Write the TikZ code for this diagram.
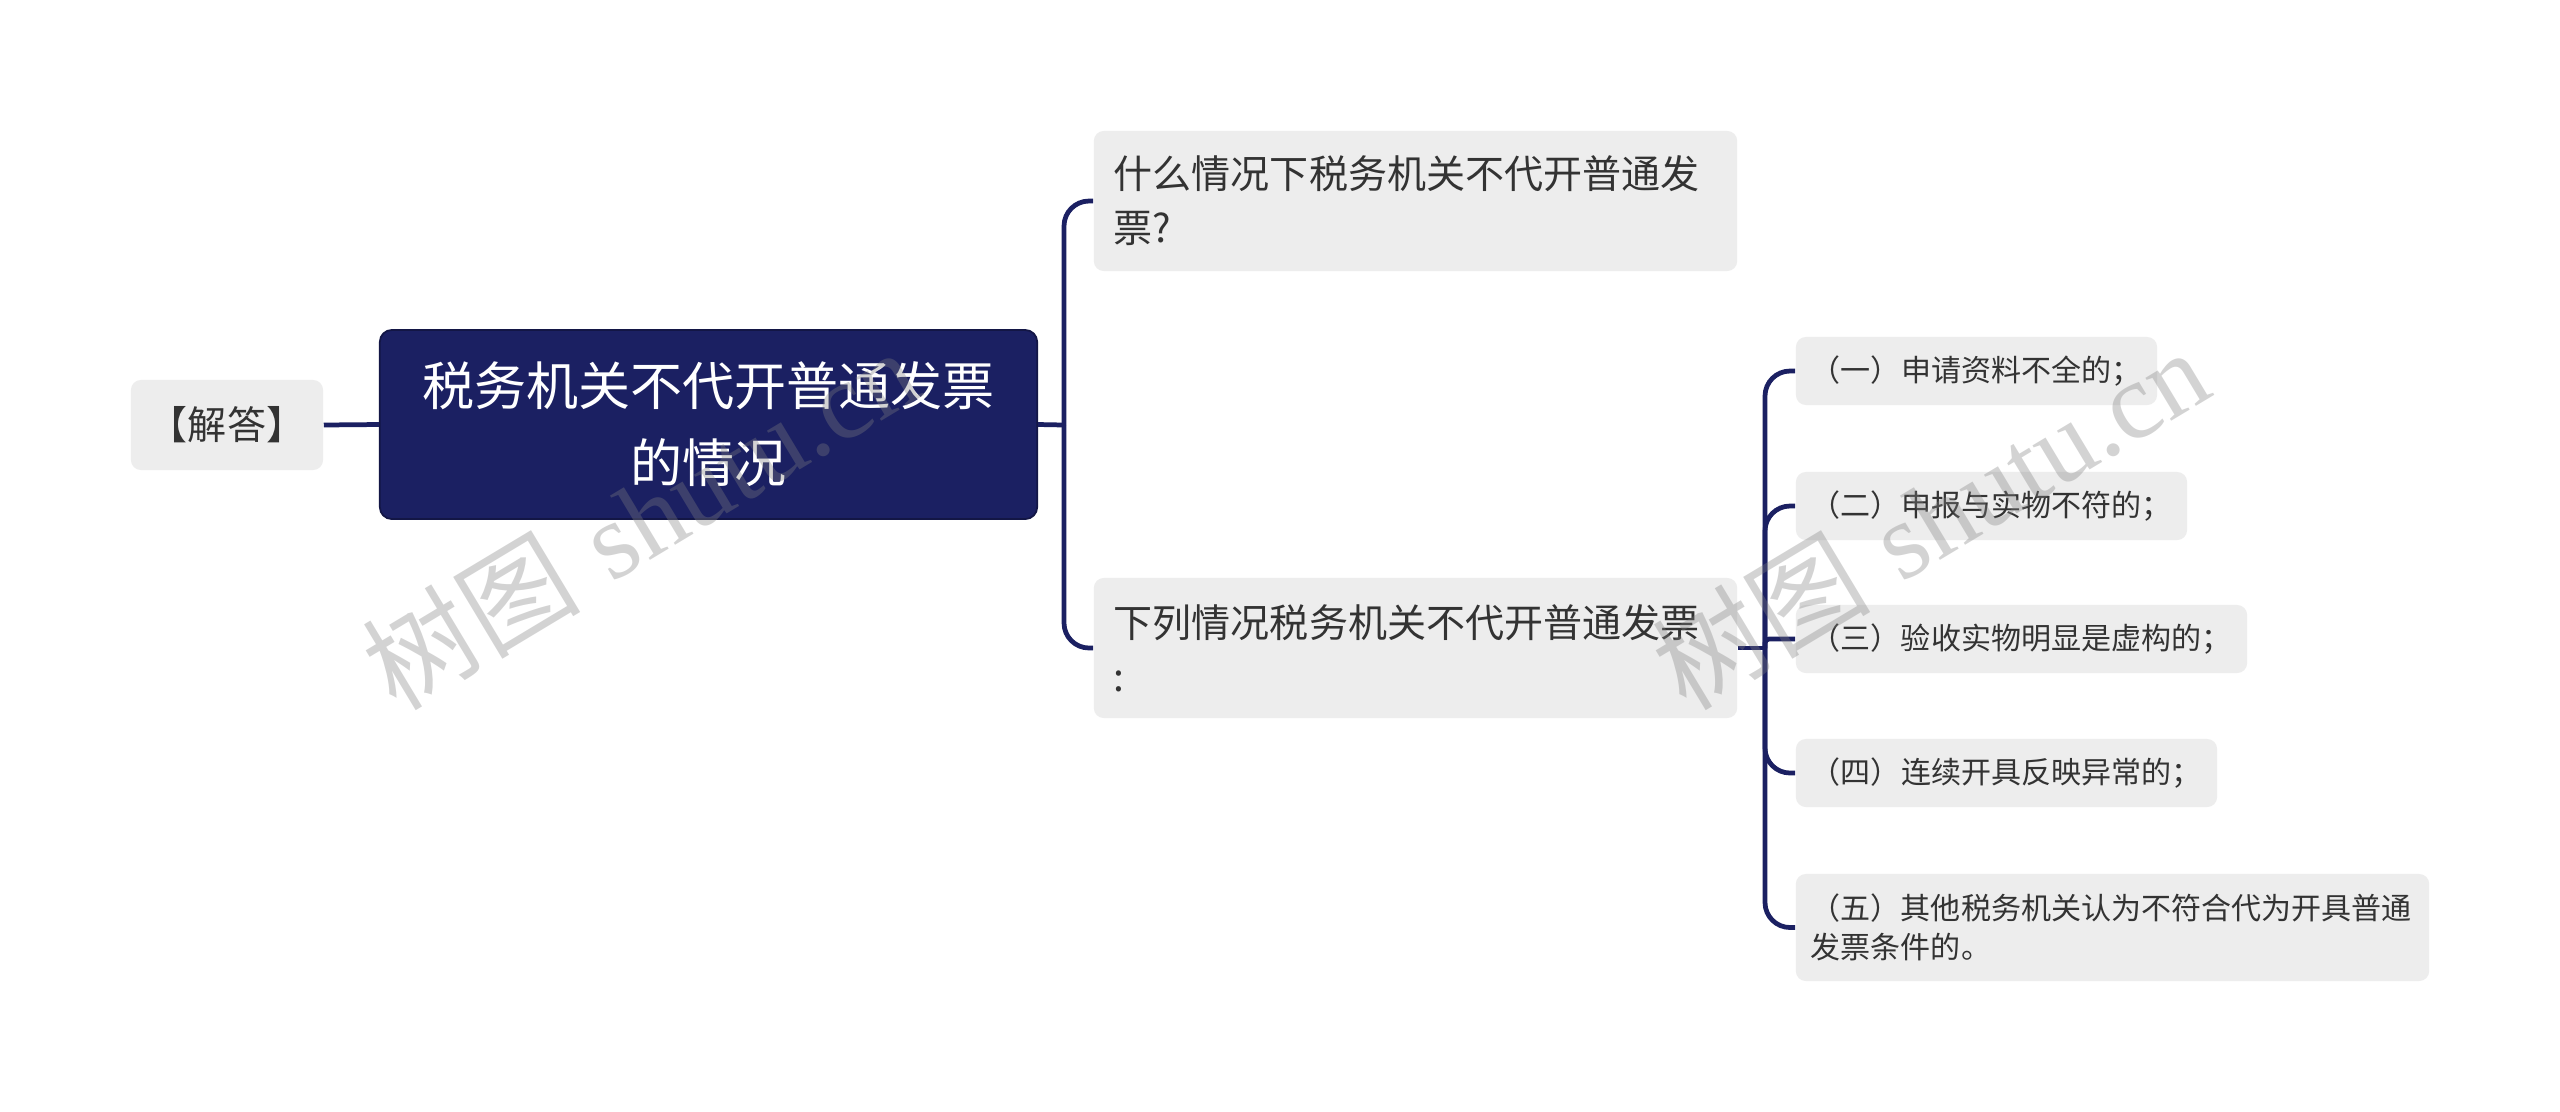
\documentclass[tikz,border=0pt]{standalone}
\usepackage{fontspec}
\newfontfamily\cjk{Noto Sans CJK SC}
\newfontfamily\wmserif{Liberation Serif}
\definecolor{navy}{RGB}{27,32,98}
\definecolor{boxgray}{RGB}{237,237,237}
\definecolor{txt}{RGB}{51,51,51}
\begin{document}
\begin{tikzpicture}[x=0.01cm,y=-0.01cm,
  conn/.style={draw=navy, line width=1.35pt},
  rootbox/.style={fill=navy, draw=navy!70!black, line width=0.5pt, rounded corners=0.12cm,
    text=white, font=\cjk\fontsize{14.8pt}{21.9pt}\selectfont, align=center,
    text width=6.57cm, inner xsep=0pt, inner ysep=0pt, minimum height=1.89cm},
  subbox/.style={fill=boxgray, rounded corners=0.1cm, text=txt,
    font=\cjk\fontsize{11.1pt}{15.4pt}\selectfont, align=left, inner xsep=0.2cm, inner ysep=0pt},
  leafbox/.style={fill=boxgray, rounded corners=0.1cm, text=txt,
    font=\cjk\fontsize{8.54pt}{11.1pt}\selectfont, align=left, inner xsep=0.15cm, inner ysep=0pt,
    minimum height=0.68cm},
  wmark/.style={rotate=31, text=black!50, opacity=0.34, font=\fontsize{31pt}{31pt}\selectfont}
]
\useasboundingbox (0,0) rectangle (2560,1111);
\fill[white] (0,0) rectangle (2560,1111);

% nodes
\node[subbox, align=center, inner xsep=0.18cm, text width=1.56cm, minimum height=0.90cm] (ans) at (227,425) {【解答】};
\node[rootbox] (root) at (708.5,424.5) {税务机关不代开普通发票\\的情况};
\node[subbox, text width=6.03cm, minimum height=1.40cm] (c1) at (1415.5,201) {什么情况下税务机关不代开普通发\\票?};
\node[subbox, text width=6.03cm, minimum height=1.40cm] (c2) at (1415.5,648) {下列情况税务机关不代开普通发票\\:};

\node[leafbox, text width=3.31cm] (g1) at (1976.5,371) {（一）申请资料不全的；};
\node[leafbox, text width=3.61cm] (g2) at (1991.5,506) {（二）申报与实物不符的；};
\node[leafbox, text width=4.21cm] (g3) at (2021.5,639) {（三）验收实物明显是虚构的；};
\node[leafbox, text width=3.91cm] (g4) at (2006.5,773) {（四）连续开具反映异常的；};
\node[leafbox, text width=6.03cm, minimum height=1.07cm] (g5) at (2112.5,927.5) {（五）其他税务机关认为不符合代为开具普通\\发票条件的。};

% connectors
\coordinate (j1) at (1064,425);
\coordinate (j2) at (1765,648);
\draw[conn] (ans.east) -- (root.west);
\draw[conn] (root.east) -- (j1);
\draw[conn, rounded corners=0.25cm] (j1) |- (c1.west);
\draw[conn, rounded corners=0.25cm] (j1) |- (c2.west);
\draw[conn] (c2.east) -- (j2);
\draw[conn, rounded corners=0.25cm] (j2) |- (g1.west);
\draw[conn, rounded corners=0.25cm] (j2) |- (g2.west);
\draw[conn, rounded corners=0.04cm] (j2) |- (g3.west);
\draw[conn, rounded corners=0.25cm] (j2) |- (g4.west);
\draw[conn, rounded corners=0.25cm] (j2) |- (g5.west);

% watermarks
\node[wmark] (wm1) at (640,518) {{\cjk 树图} {\wmserif shutu.cn}};
\node[wmark] (wm2) at (1930,518) {{\cjk 树图} {\wmserif shutu.cn}};
\end{tikzpicture}
\end{document}
